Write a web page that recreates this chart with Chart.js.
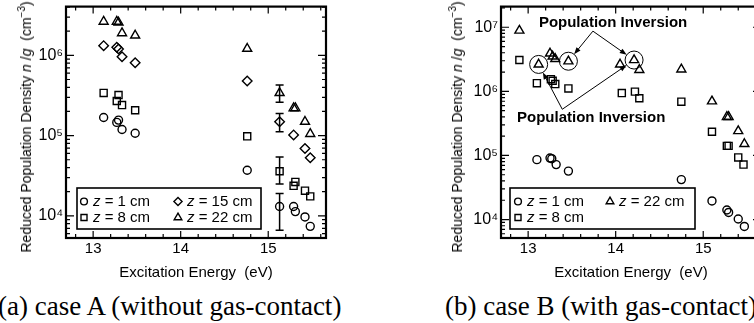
<!DOCTYPE html>
<html><head><meta charset="utf-8">
<script src="https://cdn.jsdelivr.net/npm/chart.js@4.4.1/dist/chart.umd.min.js"></script>
<style>
html,body{margin:0;padding:0;width:754px;height:323px;overflow:hidden;background:#fff;}
.box{position:absolute;top:0;width:345px;height:290px;}
.ytitle{position:absolute;font:14px 'Liberation Sans',Arial,sans-serif;white-space:nowrap;color:#000;transform:translate(-50%,-50%) rotate(-90deg);line-height:16px;}
.ytitle sup{font-size:10px;vertical-align:6px;line-height:0;}
.cap{position:absolute;font:27px 'Liberation Serif','Times New Roman',serif;white-space:nowrap;color:#000;line-height:30px;top:291px;}
</style></head>
<body>
<div class="box" style="left:0"><canvas id="cA" width="345" height="290"></canvas></div>
<div class="box" style="left:435px"><canvas id="cB" width="345" height="290"></canvas></div>
<div class="ytitle" style="left:26px;top:127px">Reduced Population Density <i>n</i> /<i>g</i>&nbsp; (cm<sup>&minus;3</sup>)</div>
<div class="ytitle" style="left:457px;top:127px">Reduced Population Density <i>n</i> /<i>g</i>&nbsp; (cm<sup>&minus;3</sup>)</div>
<div class="cap" style="left:-2px">(a) case A (without gas-contact)</div>
<div class="cap" style="left:445px">(b) case B (with gas-contact)</div>
<script>
// ---------- axes ----------
const xMin = 12.69, xMax = 15.66;
const xTicks = [13, 14, 15];
const yRangeA = [5.3e3, 4.05e6];
const yTicksA = [1e4, 1e5, 1e6];
const yRangeB = [5.15e3, 2.1e7];
const yTicksB = [1e4, 1e5, 1e6, 1e7];
const seriesLabels = ['z = 1 cm', 'z = 8 cm', 'z = 15 cm', 'z = 22 cm'];

// ---------- case A (without gas-contact) ----------
const energyA_z1  = [13.12, 13.27, 13.29, 13.33, 13.48, 14.76, 15.13, 15.29, 15.31, 15.42, 15.48];
const densityA_z1 = [1.68e5, 1.46e5, 1.56e5, 1.19e5, 1.07e5, 3.7e4, 1.31e4, 1.31e4, 1.13e4, 9.7e3, 7.4e3];
const energyA_z8  = [13.12, 13.27, 13.29, 13.33, 13.48, 14.76, 15.13, 15.29, 15.31, 15.42, 15.48];
const densityA_z8 = [3.4e5, 2.7e5, 3.2e5, 2.4e5, 2.07e5, 9.8e4, 3.6e4, 2.37e4, 2.65e4, 2.06e4, 1.75e4];
const energyA_z15  = [13.12, 13.27, 13.29, 13.33, 13.48, 14.76, 15.13, 15.29, 15.42, 15.48];
const densityA_z15 = [1.32e6, 1.26e6, 1.2e6, 9.6e5, 8.1e5, 4.8e5, 1.49e5, 1.02e5, 6.9e4, 5.3e4];
const energyA_z22  = [13.12, 13.27, 13.29, 13.33, 13.48, 14.76, 15.13, 15.29, 15.31, 15.42, 15.48];
const densityA_z22 = [2.63e6, 2.63e6, 2.57e6, 1.89e6, 1.77e6, 1.21e6, 3.4e5, 2.2e5, 2.2e5, 1.49e5, 1.05e5];
// error bars (z = 1, 8, 15, 22)
const errEnergyA = 15.13;
const errLowA  = [6.6e3, 2.5e4, 1.12e5, 2.6e5];
const errHighA = [1.9e4, 5.4e4, 1.88e5, 4.26e5];

// ---------- case B (with gas-contact) ----------
const energyB_z1  = [13.10, 13.25, 13.27, 13.32, 13.46, 14.75, 15.10, 15.27, 15.29, 15.40, 15.47];
const densityB_z1 = [8.6e4, 9.1e4, 8.9e4, 7.2e4, 5.7e4, 4.2e4, 1.95e4, 1.41e4, 1.29e4, 1.02e4, 7.8e3];
const energyB_z8  = [12.90, 13.10, 13.26, 13.28, 13.31, 13.46, 14.07, 14.22, 14.27, 14.75, 15.10, 15.27, 15.29, 15.40, 15.46];
const densityB_z8 = [3.08e6, 1.34e6, 1.55e6, 1.46e6, 1.3e6, 1.11e6, 9.4e5, 9.9e5, 7.8e5, 6.9e5, 2.34e5, 1.41e5, 1.41e5, 9.3e4, 7.2e4];
const energyB_z22  = [12.90, 13.12, 13.25, 13.28, 13.31, 13.46, 14.05, 14.21, 14.27, 14.75, 15.10, 15.27, 15.29, 15.40, 15.47];
const densityB_z22 = [8.9e6, 2.63e6, 3.9e6, 3.5e6, 3.2e6, 2.95e6, 2.63e6, 3.08e6, 2.16e6, 2.2e6, 7.0e5, 4.0e5, 4.0e5, 2.4e5, 1.51e5];
const inversionIdx = [1, 5, 7];           // circled points of the z = 22 cm series
const inversionText = 'Population Inversion';

// ---------- styling ----------
const FONT = "'Liberation Sans', Arial, Helvetica, sans-serif";
Chart.defaults.font.family = FONT;
Chart.defaults.color = '#000';
const markerStyle = {
  'z = 1 cm':  {pointStyle: 'circle',   r: 4.0},
  'z = 8 cm':  {pointStyle: 'rect',     r: 5.0},
  'z = 15 cm': {pointStyle: 'rectRot',  r: 4.8},
  'z = 22 cm': {pointStyle: 'triangle', r: 5.2}
};
const SUP = {'0':'⁰','1':'¹','2':'²','3':'³','4':'⁴','5':'⁵','6':'⁶','7':'⁷','8':'⁸','9':'⁹'};

function ds(label, xs, ys, err) {
  const st = markerStyle[label];
  return {
    label, data: xs.map((x, i) => ({x, y: ys[i]})),
    pointStyle: st.pointStyle, pointRadius: st.r, pointHoverRadius: st.r,
    borderColor: '#000', backgroundColor: 'rgba(0,0,0,0)', pointBorderWidth: 1.4,
    borderWidth: 1.4, showLine: false, errors: err || []
  };
}

// frame + inward ticks
const frameTicks = {
  id: 'frameTicks',
  beforeDatasetsDraw(chart) {
    const {ctx, chartArea: a} = chart; const x = chart.scales.x, y = chart.scales.y;
    ctx.save(); ctx.strokeStyle = '#000'; ctx.lineWidth = 1.2; ctx.beginPath();
    for (let k = Math.ceil(x.min * 5); k <= Math.floor(x.max * 5); k++) {
      const px = x.getPixelForValue(k / 5); const len = k % 5 === 0 ? 7 : 4;
      ctx.moveTo(px, a.bottom); ctx.lineTo(px, a.bottom - len);
      ctx.moveTo(px, a.top); ctx.lineTo(px, a.top + len);
    }
    const d0 = Math.floor(Math.log10(y.min)), d1 = Math.ceil(Math.log10(y.max));
    for (let d = d0; d <= d1; d++) for (let m = 1; m <= 9; m++) {
      const v = m * Math.pow(10, d); if (v < y.min || v > y.max) continue;
      const py = y.getPixelForValue(v); const len = m === 1 ? 8 : 4;
      ctx.moveTo(a.left, py); ctx.lineTo(a.left + len, py);
      ctx.moveTo(a.right, py); ctx.lineTo(a.right - len, py);
    }
    ctx.stroke();
    ctx.lineWidth = 2.2; ctx.strokeRect(a.left, a.top, a.right - a.left, a.bottom - a.top);
    ctx.restore();
  }
};

const errorBars = {
  id: 'errorBars',
  afterDatasetsDraw(chart) {
    const {ctx} = chart; const x = chart.scales.x, y = chart.scales.y;
    ctx.save(); ctx.strokeStyle = '#000'; ctx.lineWidth = 1.5;
    chart.data.datasets.forEach(d => d.errors.forEach(e => {
      const px = x.getPixelForValue(e.x), lo = y.getPixelForValue(e.lo), hi = y.getPixelForValue(e.hi);
      ctx.beginPath();
      ctx.moveTo(px, lo); ctx.lineTo(px, hi);
      ctx.moveTo(px - 4, lo); ctx.lineTo(px + 4, lo);
      ctx.moveTo(px - 4, hi); ctx.lineTo(px + 4, hi);
      ctx.stroke();
    }));
    ctx.restore();
  }
};

function drawMarker(ctx, style, r, x, y) {
  if (Chart.helpers && Chart.helpers.drawPoint) {
    Chart.helpers.drawPoint(ctx, {pointStyle: style, radius: r, borderWidth: 1.4, rotation: 0}, x, y);
  }
}

function boxLegend(cols, box) {
  return {
    id: 'boxLegend',
    afterDatasetsDraw(chart) {
      const {ctx, chartArea: a} = chart;
      const L = a.left + box.dx, T = a.bottom - box.dy;
      ctx.save();
      ctx.fillStyle = '#fff'; ctx.fillRect(L, T, box.w, box.h);
      ctx.strokeStyle = '#000'; ctx.lineWidth = 1.6; ctx.strokeRect(L, T, box.w, box.h);
      cols.forEach((col, ci) => col.forEach((di, ri) => {
        const d = chart.data.datasets[di];
        const mx = L + box.colX[ci], my = T + box.rowY[ri];
        ctx.fillStyle = 'rgba(0,0,0,0)'; ctx.strokeStyle = '#000'; ctx.lineWidth = 1.4;
        drawMarker(ctx, d.pointStyle, d.pointRadius * 0.85, mx, my);
        ctx.fillStyle = '#000'; ctx.textBaseline = 'middle'; ctx.textAlign = 'left';
        let tx = mx + box.gap;
        ctx.font = 'italic 15px ' + FONT; ctx.fillText(d.label[0], tx, my);
        tx += ctx.measureText(d.label[0]).width;
        ctx.font = '15px ' + FONT; ctx.fillText(d.label.slice(1), tx, my);
      }));
      ctx.restore();
    }
  };
}

// annotations for case B (anchors in data units)
const annoB = {
  labels: [
    {x: 13.97, y: 1.19e7, from: {x: 13.74, y: 8.7e6}, to: [5, 7]},
    {x: 13.72, y: 3.85e5, from: {x: 13.39, y: 5.25e5}, to: [1, 7]}
  ],
  ringR: 9
};
const inversionPlugin = {
  id: 'inversion',
  afterDatasetsDraw(chart) {
    const {ctx} = chart; const x = chart.scales.x, y = chart.scales.y;
    const d = chart.data.datasets[2];
    const pts = inversionIdx.map(i => ({i, px: x.getPixelForValue(d.data[i].x), py: y.getPixelForValue(d.data[i].y)}));
    ctx.save(); ctx.strokeStyle = '#000'; ctx.fillStyle = '#000'; ctx.lineWidth = 1;
    pts.forEach(p => { ctx.beginPath(); ctx.arc(p.px, p.py, annoB.ringR, 0, Math.PI * 2); ctx.stroke(); });
    ctx.font = 'bold 15px ' + FONT; ctx.textAlign = 'center'; ctx.textBaseline = 'middle';
    annoB.labels.forEach(l => {
      ctx.fillText(inversionText, x.getPixelForValue(l.x), y.getPixelForValue(l.y));
      const sx = x.getPixelForValue(l.from.x), sy = y.getPixelForValue(l.from.y);
      l.to.forEach(i => {
        const p = pts.find(q => q.i === i);
        const dx = p.px - sx, dy = p.py - sy, len = Math.hypot(dx, dy);
        const ux = dx / len, uy = dy / len;
        const ex = p.px - ux * annoB.ringR, ey = p.py - uy * annoB.ringR;
        ctx.beginPath(); ctx.moveTo(sx, sy); ctx.lineTo(ex - ux * 4, ey - uy * 4); ctx.stroke();
        ctx.beginPath(); ctx.moveTo(ex, ey);
        ctx.lineTo(ex - ux * 7 - uy * 2.6, ey - uy * 7 + ux * 2.6);
        ctx.lineTo(ex - ux * 7 + uy * 2.6, ey - uy * 7 - ux * 2.6);
        ctx.closePath(); ctx.fill();
      });
    });
    ctx.restore();
  }
};

function makeChart(id, datasets, yRange, yTicks, plugins) {
  return new Chart(document.getElementById(id), {
    type: 'scatter',
    data: {datasets},
    options: {
      responsive: false, animation: false, events: [],
      layout: {padding: {left: 0, top: 3, right: 19, bottom: 0}},
      plugins: {legend: {display: false}, tooltip: {enabled: false}},
      scales: {
        x: {
          type: 'linear', min: xMin, max: xMax,
          afterBuildTicks: s => { s.ticks = xTicks.map(v => ({value: v})); },
          afterFit: s => { s.height = 52; s.paddingLeft = 0; s.paddingRight = 0; },
          grid: {display: false, drawTicks: false}, border: {display: false},
          ticks: {font: {size: 15}, color: '#000', padding: 2, maxRotation: 0, autoSkip: false, callback: v => String(v)},
          title: {display: true, text: 'Excitation Energy  (eV)', font: {size: 15}, color: '#000', padding: {top: 0, bottom: 8}}
        },
        y: {
          type: 'logarithmic', min: yRange[0], max: yRange[1],
          afterBuildTicks: s => { s.ticks = yTicks.map(v => ({value: v})); },
          afterFit: s => { s.width = 66; s.paddingTop = 0; s.paddingBottom = 0; },
          grid: {display: false, drawTicks: false}, border: {display: false},
          ticks: {font: {size: 16}, color: '#000', padding: 3, autoSkip: false,
                  callback: v => '10' + String(Math.round(Math.log10(v))).split('').map(c => SUP[c]).join('')}
        }
      }
    },
    plugins
  });
}

const errA = (k) => [{x: errEnergyA, lo: errLowA[k], hi: errHighA[k]}];
makeChart('cA', [
  ds(seriesLabels[0], energyA_z1, densityA_z1, errA(0)),
  ds(seriesLabels[1], energyA_z8, densityA_z8, errA(1)),
  ds(seriesLabels[2], energyA_z15, densityA_z15, errA(2)),
  ds(seriesLabels[3], energyA_z22, densityA_z22, errA(3))
], yRangeA, yTicksA, [frameTicks, errorBars,
  boxLegend([[0, 1], [2, 3]], {dx: 11, dy: 50, w: 184, h: 41, colX: [7, 101], rowY: [13.5, 29.5], gap: 9})]);

makeChart('cB', [
  ds(seriesLabels[0], energyB_z1, densityB_z1),
  ds(seriesLabels[1], energyB_z8, densityB_z8),
  ds(seriesLabels[3], energyB_z22, densityB_z22)
], yRangeB, yTicksB, [frameTicks, inversionPlugin,
  boxLegend([[0, 1], [2]], {dx: 9, dy: 50, w: 185, h: 41, colX: [8, 100], rowY: [13.5, 29.5], gap: 9})]);
</script>
</body></html>
